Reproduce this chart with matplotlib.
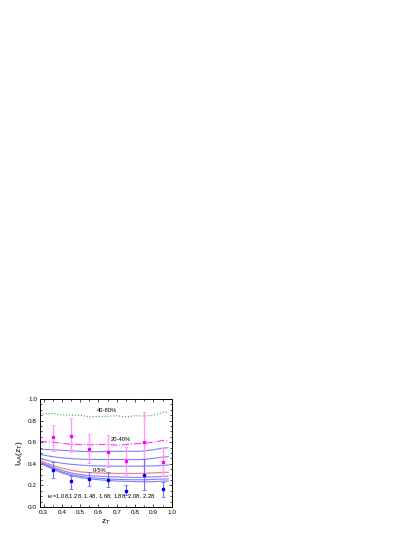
import numpy as np
import matplotlib
matplotlib.use('Agg')
import matplotlib.pyplot as plt
from matplotlib.ticker import MultipleLocator, AutoMinorLocator

# model curves, one per kappa_0
zt_curve = [0.28, 0.30, 0.35, 0.40, 0.45, 0.50, 0.55, 0.60, 0.65, 0.70, 0.75, 0.80, 0.85, 0.90, 0.95, 0.98]
k108 = [0.535, 0.533, 0.530, 0.525, 0.520, 0.515, 0.512, 0.512, 0.515, 0.515, 0.515, 0.515, 0.518, 0.530, 0.545, 0.548]
k128 = [0.490, 0.480, 0.465, 0.455, 0.448, 0.442, 0.440, 0.440, 0.440, 0.440, 0.440, 0.438, 0.440, 0.450, 0.462, 0.465]
k148 = [0.450, 0.440, 0.420, 0.405, 0.395, 0.388, 0.382, 0.380, 0.378, 0.378, 0.378, 0.378, 0.378, 0.380, 0.385, 0.388]
k168 = [0.430, 0.415, 0.385, 0.360, 0.340, 0.325, 0.318, 0.315, 0.312, 0.310, 0.310, 0.310, 0.312, 0.315, 0.320, 0.320]
k188 = [0.425, 0.405, 0.370, 0.340, 0.315, 0.300, 0.290, 0.285, 0.280, 0.278, 0.275, 0.273, 0.275, 0.278, 0.282, 0.285]
k208 = [0.415, 0.395, 0.360, 0.325, 0.300, 0.285, 0.273, 0.265, 0.260, 0.255, 0.253, 0.252, 0.252, 0.255, 0.258, 0.260]
k228 = [0.410, 0.390, 0.350, 0.315, 0.290, 0.272, 0.260, 0.252, 0.245, 0.240, 0.237, 0.235, 0.233, 0.235, 0.238, 0.240]

# peripheral curves
cent2040 = [0.605, 0.605, 0.600, 0.590, 0.580, 0.578, 0.575, 0.577, 0.580, 0.572, 0.578, 0.585, 0.590, 0.600, 0.615, 0.610]
cent4080 = [0.860, 0.863, 0.865, 0.852, 0.850, 0.850, 0.835, 0.838, 0.840, 0.845, 0.835, 0.845, 0.842, 0.850, 0.875, 0.880]

# data points
zt_data = [0.35, 0.45, 0.55, 0.65, 0.75, 0.85, 0.95]
iaa_2040 = [0.645, 0.660, 0.540, 0.510, 0.430, 0.600, 0.420]
iaa_2040_hi = [0.760, 0.820, 0.680, 0.665, 0.555, 0.875, 0.545]
iaa_2040_lo = [0.520, 0.510, 0.410, 0.370, 0.300, 0.250, 0.290]
iaa_005 = [0.345, 0.240, 0.255, 0.250, 0.150, 0.300, 0.165]
iaa_005_hi = [0.420, 0.290, 0.320, 0.320, 0.200, 0.440, 0.235]
iaa_005_lo = [0.270, 0.170, 0.190, 0.180, 0.110, 0.160, 0.095]

plt.rcParams['font.family'] = ['Liberation Sans', 'DejaVu Sans']
plt.rcParams['mathtext.default'] = 'regular'
fs = 4.6
fs_txt = 4.2

fig = plt.figure(figsize=(4.15, 5.37), dpi=100)
ax = fig.add_axes([0.096, 0.056, 0.318, 0.201])

for k in [k108, k128, k148, k188, k208, k228]:
    ax.plot(zt_curve, k, color='#7f7fff', lw=0.8)
ax.plot(zt_curve, k168, color='#ff8080', lw=0.9)
ax.plot(zt_curve, cent2040, color='#ff33ff', lw=0.8, ls='-.')
ax.plot(zt_curve, cent4080, color='#33aa33', lw=0.8, ls=':')

e = np.array(iaa_2040)
ax.errorbar(zt_data, e, yerr=[e - np.array(iaa_2040_lo), np.array(iaa_2040_hi) - e],
            fmt='s', color='#ff00ff', ms=1.6, ecolor='#ff99ff', elinewidth=1.0,
            capsize=1.5, capthick=0.6)
e = np.array(iaa_005)
ax.errorbar(zt_data, e, yerr=[e - np.array(iaa_005_lo), np.array(iaa_005_hi) - e],
            fmt='s', color='#0000ff', ms=1.6, ecolor='#6f6fff', elinewidth=0.8,
            capsize=1.5, capthick=0.6)

ax.text(0.647, 0.897, '40-80%', fontsize=fs_txt, ha='center', va='center')
ax.text(0.723, 0.626, '20-40%', fontsize=fs_txt, ha='center', va='center')
ax.text(0.606, 0.338, '0-5%', fontsize=fs_txt, ha='center', va='center')
ax.text(0.318, 0.098, r'$\kappa_0$=1.08,1.28, 1.48, 1.68, 1.88, 2.08, 2.28',
        fontsize=fs_txt, ha='left', va='center')

ax.set_xlim(0.28, 1.0)
ax.set_ylim(0.0, 1.0)
ax.xaxis.set_major_locator(MultipleLocator(0.1))
ax.xaxis.set_minor_locator(AutoMinorLocator(2))
ax.yaxis.set_major_locator(MultipleLocator(0.2))
ax.yaxis.set_minor_locator(AutoMinorLocator(4))
ax.tick_params(which='both', direction='in', top=True, right=True, labelsize=fs,
               width=0.5, pad=2)
ax.tick_params(which='major', length=2.5)
ax.tick_params(which='minor', length=1.5)
for s in ax.spines.values():
    s.set_linewidth(0.7)
ax.set_xlabel('z$_T$', fontsize=6, labelpad=2)
ax.set_ylabel('I$_{AA}$(z$_T$)', fontsize=6, labelpad=2)

fig.savefig('out.png', dpi=100)
